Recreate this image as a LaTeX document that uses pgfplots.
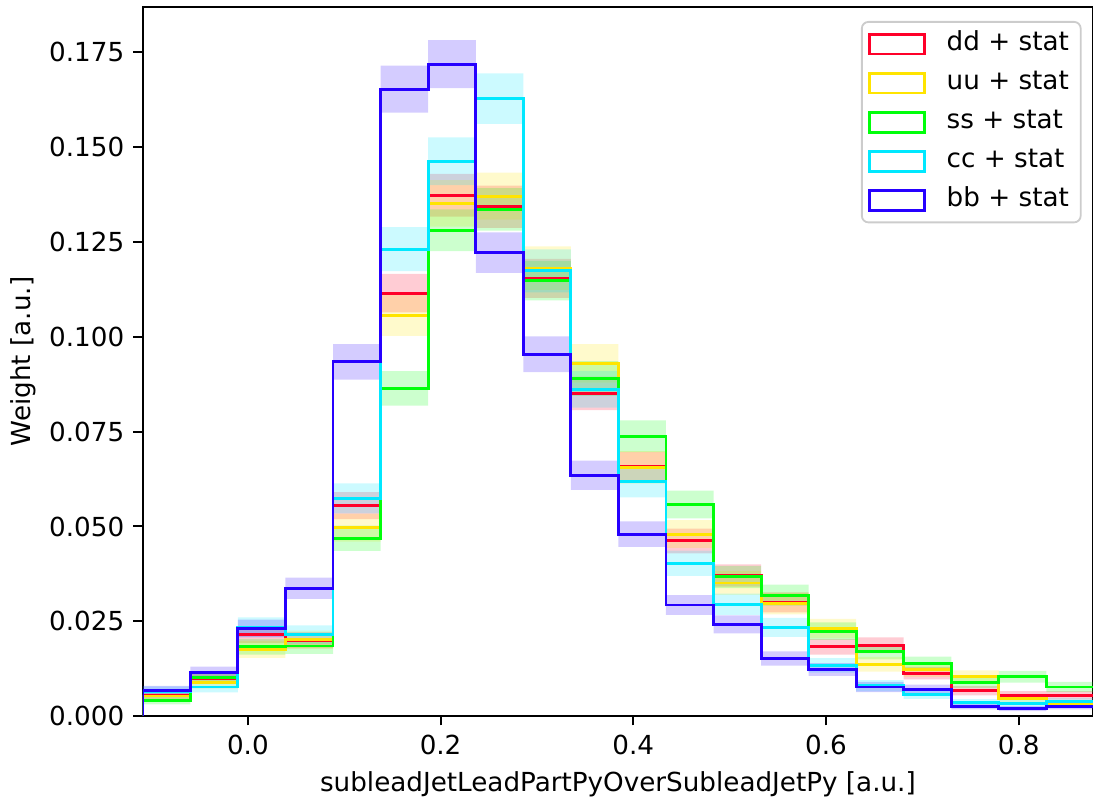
\documentclass[border=0pt]{standalone}
\usepackage{pgfplots}
\pgfplotsset{compat=1.18}
\usepackage{pgfplotstable}
\usepgfplotslibrary{fillbetween}
\usetikzlibrary{calc}
\usepackage{fontspec}
\setmainfont{DejaVu Sans}
\definecolor{cdd}{RGB}{255,0,41}
\definecolor{cuu}{RGB}{255,228,0}
\definecolor{css}{RGB}{0,255,10}
\definecolor{ccc}{RGB}{0,232,255}
\definecolor{cbb}{RGB}{38,0,255}

\pgfplotstableread{
x y e
-0.109 0 0
-0.109 0.0055 0.00113
-0.0597 0.0100 0.00152
-0.0103 0.0215 0.00223
0.0390 0.0200 0.00215
0.0884 0.0555 0.00358
0.1378 0.1115 0.00508
0.1871 0.1373 0.00563
0.2365 0.1343 0.00557
0.2858 0.1154 0.00516
0.3352 0.0851 0.00443
0.3845 0.0658 0.00390
0.4339 0.0462 0.00327
0.4832 0.0371 0.00293
0.5326 0.0300 0.00263
0.5819 0.0183 0.00206
0.6313 0.0187 0.00208
0.6806 0.0113 0.00161
0.7300 0.0067 0.00124
0.7793 0.0055 0.00113
0.8287 0.0055 0.00113
0.878 0.0055 0.00113
}\tdd

\pgfplotstableread{
x y e
-0.109 0 0
-0.109 0.0053 0.00122
-0.0597 0.0088 0.00157
-0.0103 0.0176 0.00222
0.0390 0.0202 0.00237
0.0884 0.0497 0.00372
0.1378 0.1057 0.00543
0.1871 0.1352 0.00614
0.2365 0.1371 0.00618
0.2858 0.1181 0.00574
0.3352 0.0930 0.00509
0.3845 0.0656 0.00428
0.4339 0.0480 0.00366
0.4832 0.0351 0.00313
0.5326 0.0297 0.00288
0.5819 0.0231 0.00254
0.6313 0.0137 0.00195
0.6806 0.0122 0.00185
0.7300 0.0104 0.00170
0.7793 0.0047 0.00115
0.8287 0.0032 0.00095
0.878 0.0032 0.00095
}\tuu

\pgfplotstableread{
x y e
-0.109 0 0
-0.109 0.0041 0.00099
-0.0597 0.0102 0.00156
-0.0103 0.0183 0.00208
0.0390 0.0185 0.00209
0.0884 0.0469 0.00334
0.1378 0.0864 0.00453
0.1871 0.1281 0.00551
0.2365 0.1336 0.00563
0.2858 0.1148 0.00522
0.3352 0.0890 0.00459
0.3845 0.0738 0.00418
0.4339 0.0558 0.00364
0.4832 0.0367 0.00295
0.5326 0.0319 0.00275
0.5819 0.0224 0.00231
0.6313 0.0170 0.00201
0.6806 0.0139 0.00182
0.7300 0.0089 0.00145
0.7793 0.0104 0.00157
0.8287 0.0077 0.00135
0.878 0.0077 0.00135
}\tss

\pgfplotstableread{
x y e
-0.109 0 0
-0.109 0.0065 0.00133
-0.0597 0.0077 0.00145
-0.0103 0.0235 0.00253
0.0390 0.0215 0.00242
0.0884 0.0574 0.00395
0.1378 0.1231 0.00579
0.1871 0.1463 0.00631
0.2365 0.1628 0.00666
0.2858 0.1174 0.00565
0.3352 0.0862 0.00484
0.3845 0.0618 0.00410
0.4339 0.0403 0.00331
0.4832 0.0295 0.00283
0.5326 0.0234 0.00252
0.5819 0.0134 0.00191
0.6313 0.0080 0.00148
0.6806 0.0058 0.00126
0.7300 0.0035 0.00098
0.7793 0.0033 0.00095
0.8287 0.0038 0.00102
0.878 0.0038 0.00102
}\tcc

\pgfplotstableread{
x y e
-0.109 0 0
-0.109 0.0067 0.00125
-0.0597 0.0114 0.00163
-0.0103 0.0231 0.00233
0.0390 0.0337 0.00281
0.0884 0.0934 0.00468
0.1378 0.1653 0.00622
0.1871 0.1719 0.00634
0.2365 0.1222 0.00535
0.2858 0.0954 0.00473
0.3352 0.0635 0.00386
0.3845 0.0480 0.00335
0.4339 0.0293 0.00262
0.4832 0.0242 0.00238
0.5326 0.0152 0.00189
0.5819 0.0123 0.00170
0.6313 0.0077 0.00134
0.6806 0.0070 0.00128
0.7300 0.0026 0.00078
0.7793 0.0020 0.00068
0.8287 0.0026 0.00078
0.878 0.0026 0.00078
}\tbb

\begin{document}
\begin{tikzpicture}
\begin{axis}[
  name=ax,
  scale only axis,
  width=362.6pt, height=270.7pt,
  xmin=-0.109, xmax=0.877,
  ymin=0, ymax=0.187,
  axis line style={line width=0.76pt},
  every tick/.style={black, line width=0.76pt},
  major tick length=3.56pt,
  tick align=outside,
  xtick pos=bottom, ytick pos=left,
  xtick={0,0.2,0.4,0.6,0.8},
  xticklabels={0.0,0.2,0.4,0.6,0.8},
  ytick={0,0.025,0.05,0.075,0.1,0.125,0.15,0.175},
  yticklabels={0.000,0.025,0.050,0.075,0.100,0.125,0.150,0.175},
  tick label style={font=\fontsize{10}{12}\selectfont},
  xlabel={subleadJetLeadPartPyOverSubleadJetPy [a.u.]},
  ylabel={Weight [a.u.]},
  label style={font=\fontsize{10}{12}\selectfont},
  every axis x label/.style={at={(axis description cs:0.5,-0.096)}, anchor=center},
  every axis y label/.style={at={(axis description cs:-0.126,0.5)}, anchor=center, rotate=90},
  legend cell align=left,
  legend style={at={(0.988,0.980)}, anchor=north east,
    draw=black!20, line width=0.7pt, rounded corners=2.5pt,
    fill=white, fill opacity=0.8, text opacity=1,
    inner xsep=2.5pt, inner ysep=2pt, row sep=2pt, column sep=5.8pt,
    nodes={inner xsep=2pt, inner ysep=1.5pt, text height=7.5pt, text depth=2.4pt},
    font=\fontsize{10}{12}\selectfont},
]
% dd
\addplot[name path=ddU, draw=none, const plot, forget plot] table[x=x, y expr=\thisrow{y}+\thisrow{e}] {\tdd};
\addplot[name path=ddL, draw=none, const plot, forget plot] table[x=x, y expr=\thisrow{y}-\thisrow{e}] {\tdd};
\addplot[fill=cdd, fill opacity=0.2, draw=none, forget plot] fill between[of=ddU and ddL];
\addplot[cdd, line width=1.1pt, const plot, forget plot] table[x=x, y=y] {\tdd};
% uu
\addplot[name path=uuU, draw=none, const plot, forget plot] table[x=x, y expr=\thisrow{y}+\thisrow{e}] {\tuu};
\addplot[name path=uuL, draw=none, const plot, forget plot] table[x=x, y expr=\thisrow{y}-\thisrow{e}] {\tuu};
\addplot[fill=cuu, fill opacity=0.2, draw=none, forget plot] fill between[of=uuU and uuL];
\addplot[cuu, line width=1.1pt, const plot, forget plot] table[x=x, y=y] {\tuu};
% ss
\addplot[name path=ssU, draw=none, const plot, forget plot] table[x=x, y expr=\thisrow{y}+\thisrow{e}] {\tss};
\addplot[name path=ssL, draw=none, const plot, forget plot] table[x=x, y expr=\thisrow{y}-\thisrow{e}] {\tss};
\addplot[fill=css, fill opacity=0.2, draw=none, forget plot] fill between[of=ssU and ssL];
\addplot[css, line width=1.1pt, const plot, forget plot] table[x=x, y=y] {\tss};
% cc
\addplot[name path=ccU, draw=none, const plot, forget plot] table[x=x, y expr=\thisrow{y}+\thisrow{e}] {\tcc};
\addplot[name path=ccL, draw=none, const plot, forget plot] table[x=x, y expr=\thisrow{y}-\thisrow{e}] {\tcc};
\addplot[fill=ccc, fill opacity=0.2, draw=none, forget plot] fill between[of=ccU and ccL];
\addplot[ccc, line width=1.1pt, const plot, forget plot] table[x=x, y=y] {\tcc};
% bb
\addplot[name path=bbU, draw=none, const plot, forget plot] table[x=x, y expr=\thisrow{y}+\thisrow{e}] {\tbb};
\addplot[name path=bbL, draw=none, const plot, forget plot] table[x=x, y expr=\thisrow{y}-\thisrow{e}] {\tbb};
\addplot[fill=cbb, fill opacity=0.2, draw=none, forget plot] fill between[of=bbU and bbL];
\addplot[cbb, line width=1.1pt, const plot, forget plot] table[x=x, y=y] {\tbb};

\addlegendimage{legend image code/.code={\draw[sharp corners, draw=cdd, fill=white, line width=1.1pt] (0pt,-3.8pt) rectangle (21pt,3.8pt);}}
\addlegendentry{dd + stat}
\addlegendimage{legend image code/.code={\draw[sharp corners, draw=cuu, fill=white, line width=1.1pt] (0pt,-3.8pt) rectangle (21pt,3.8pt);}}
\addlegendentry{uu + stat}
\addlegendimage{legend image code/.code={\draw[sharp corners, draw=css, fill=white, line width=1.1pt] (0pt,-3.8pt) rectangle (21pt,3.8pt);}}
\addlegendentry{ss + stat}
\addlegendimage{legend image code/.code={\draw[sharp corners, draw=ccc, fill=white, line width=1.1pt] (0pt,-3.8pt) rectangle (21pt,3.8pt);}}
\addlegendentry{cc + stat}
\addlegendimage{legend image code/.code={\draw[sharp corners, draw=cbb, fill=white, line width=1.1pt] (0pt,-3.8pt) rectangle (21pt,3.8pt);}}
\addlegendentry{bb + stat}
\end{axis}
\pgfresetboundingbox
\path ($(ax.south west)+(-54.5pt,-31.3pt)$) rectangle ($(ax.north east)+(0pt,2.6pt)$);
\end{tikzpicture}
\end{document}
